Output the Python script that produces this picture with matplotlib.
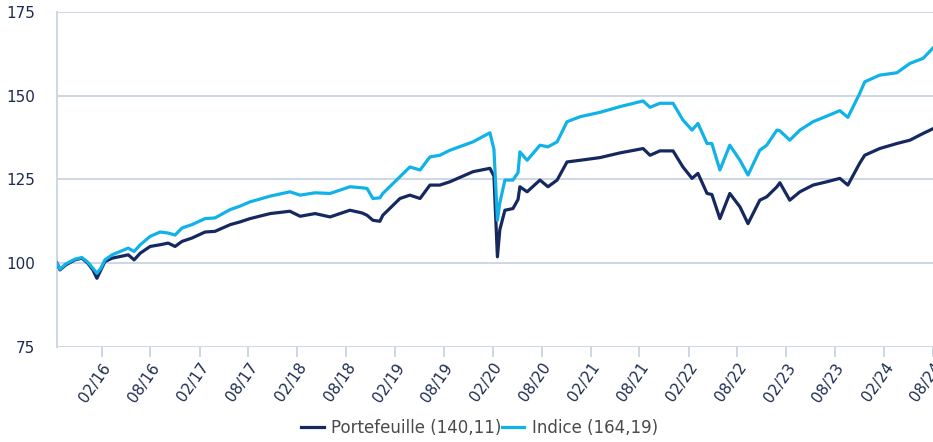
import matplotlib
matplotlib.use("Agg")
import matplotlib.pyplot as plt
import matplotlib.dates as mdates
import pandas as pd

# valeurs (base 100)
dates = ["2015-08-18", "2015-08-29", "2015-09-20", "2015-10-24", "2015-11-19",
         "2015-12-11", "2015-12-30", "2016-01-14", "2016-01-29", "2016-02-13",
         "2016-03-11", "2016-04-10", "2016-05-10", "2016-06-01", "2016-06-24",
         "2016-07-31", "2016-09-06", "2016-10-06", "2016-11-01", "2016-11-27",
         "2017-01-03", "2017-02-21", "2017-03-30", "2017-05-26", "2017-07-01",
         "2017-08-08", "2017-10-22", "2018-01-04", "2018-02-11", "2018-04-08",
         "2018-06-03", "2018-08-16", "2018-09-30", "2018-10-19", "2018-11-10",
         "2018-12-06", "2018-12-17", "2019-02-19", "2019-03-28", "2019-05-05",
         "2019-06-11", "2019-07-18", "2019-08-25", "2019-11-19", "2020-01-21",
         "2020-02-05", "2020-02-18", "2020-02-27", "2020-03-17", "2020-04-16",
         "2020-05-05", "2020-05-12", "2020-06-08", "2020-07-26", "2020-08-25",
         "2020-09-28", "2020-11-04", "2020-12-23", "2021-03-07", "2021-05-21",
         "2021-08-15", "2021-09-10", "2021-10-17", "2021-12-05", "2022-01-11",
         "2022-02-14", "2022-03-08", "2022-04-11", "2022-04-29", "2022-05-29",
         "2022-07-05", "2022-08-12", "2022-09-11", "2022-10-25", "2022-11-20",
         "2022-12-28", "2023-01-08", "2023-02-14", "2023-03-24", "2023-05-12",
         "2023-07-03", "2023-08-20", "2023-09-19", "2023-11-02", "2023-11-21",
         "2024-01-16", "2024-03-20", "2024-05-08", "2024-06-26", "2024-08-02"]

portefeuille = [100.0, 98.0, 99.5, 101.0, 101.5,
                100.0, 98.0, 95.5, 98.0, 100.5,
                101.5, 102.0, 102.5, 101.0, 103.0,
                105.0, 105.5, 106.0, 105.0, 106.5,
                107.5, 109.3, 109.5, 111.5, 112.3,
                113.3, 114.8, 115.5, 114.0, 114.8,
                113.8, 115.8, 115.0, 114.3, 112.8,
                112.5, 114.3, 119.3, 120.3, 119.3,
                123.3, 123.3, 124.3, 127.3, 128.3,
                126.0, 101.9, 110.0, 115.8, 116.3,
                119.0, 122.8, 121.3, 124.8, 122.8,
                124.8, 130.2, 130.7, 131.5, 132.9,
                134.2, 132.2, 133.5, 133.5, 128.7,
                125.3, 126.8, 120.8, 120.5, 113.3,
                120.8, 116.8, 111.8, 118.8, 119.8,
                122.8, 124.0, 118.8, 121.3, 123.3,
                124.3, 125.3, 123.3, 129.8, 132.2,
                134.2, 135.7, 136.7, 138.7, 140.11]

indice = [100.0, 98.2, 99.8, 101.2, 101.7,
          100.3, 98.5, 97.0, 98.5, 101.0,
          102.5, 103.5, 104.5, 103.5, 105.5,
          108.0, 109.3, 109.0, 108.4, 110.5,
          111.5, 113.3, 113.5, 116.0, 117.0,
          118.3, 120.0, 121.3, 120.3, 121.0,
          120.8, 122.8, 122.5, 122.3, 119.3,
          119.5, 120.8, 125.8, 128.7, 127.8,
          131.7, 132.2, 133.7, 136.2, 138.9,
          134.0, 112.8, 118.0, 124.8, 124.8,
          127.0, 133.2, 130.7, 135.2, 134.7,
          136.2, 142.2, 143.7, 145.0, 146.7,
          148.4, 146.5, 147.7, 147.7, 142.7,
          139.7, 141.7, 135.7, 135.7, 127.8,
          135.2, 130.7, 126.3, 133.7, 135.2,
          139.7, 139.5, 136.7, 139.7, 142.2,
          143.9, 145.5, 143.5, 150.6, 154.1,
          156.1, 156.8, 159.6, 161.1, 164.19]

labels = ["Portefeuille (140,11)", "Indice (164,19)"]

x = pd.to_datetime(dates)

grid_col = "#cdd7e4"
navy = "#15285f"
cyan = "#10b2e8"
txt_col = "#1c2b4f"

fig = plt.figure(figsize=(9.33, 4.42), dpi=100)
ax = fig.add_axes([0.0611, 0.2149, 0.9389, 0.7585])

ax.plot(x, portefeuille, color=navy, lw=2.3, label=labels[0], zorder=3)
ax.plot(x, indice, color=cyan, lw=2.3, label=labels[1], zorder=3)

ax.set_ylim(75, 175)
ax.set_yticks([75, 100, 125, 150, 175])
ax.set_xlim(pd.Timestamp("2015-08-18"), pd.Timestamp("2024-08-02"))
ax.xaxis.set_major_locator(mdates.MonthLocator(bymonth=[2, 8], bymonthday=1))
ax.xaxis.set_major_formatter(mdates.DateFormatter("%m/%y"))

ax.grid(axis="y", color=grid_col, lw=1.4)
ax.set_axisbelow(True)
for s in ["top", "right", "bottom"]:
    ax.spines[s].set_visible(False)
ax.spines["left"].set_color(grid_col)
ax.spines["left"].set_linewidth(1.4)

ax.tick_params(axis="y", length=0, pad=16, labelsize=11, labelcolor=txt_col)
ax.tick_params(axis="x", length=7.5, width=1.4, color=grid_col, pad=2,
               labelsize=11, labelcolor=txt_col)
for lab in ax.get_xticklabels():
    lab.set_rotation(55)
    lab.set_ha("right")
    lab.set_va("top")
    lab.set_rotation_mode("anchor")

leg = fig.legend(loc="center", bbox_to_anchor=(0.514, 0.032), ncol=2,
                 frameon=False, fontsize=12, handlelength=1.35,
                 handletextpad=0.45, columnspacing=0.0)
for t in leg.get_texts():
    t.set_color("#4a4a4a")

fig.savefig("out.png", dpi=100)
